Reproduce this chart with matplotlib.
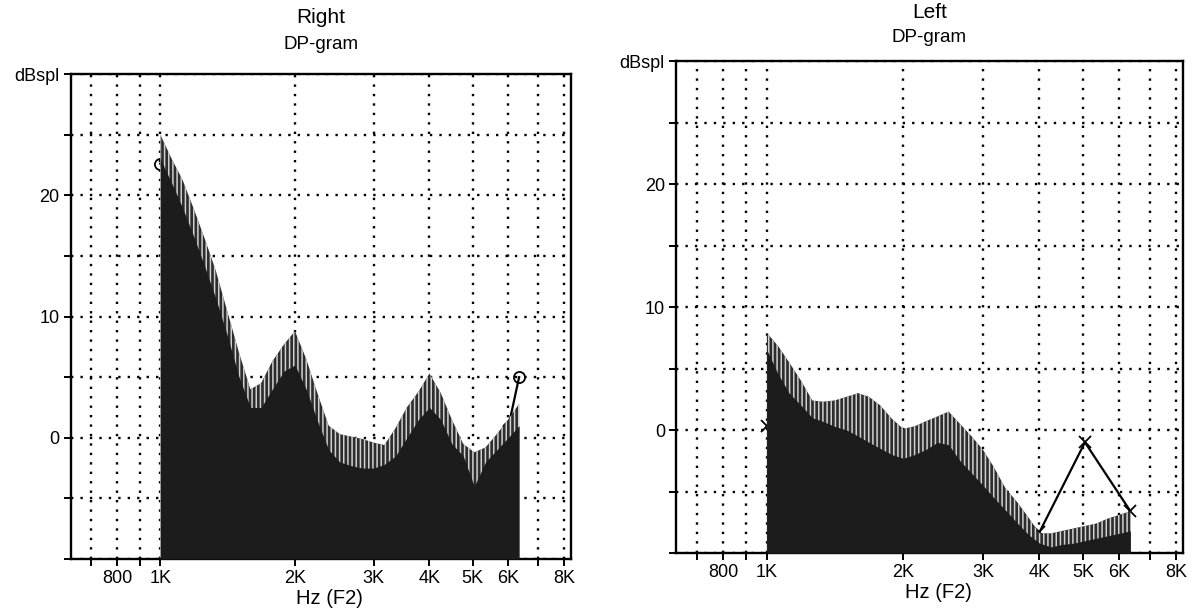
import numpy as np
import matplotlib
matplotlib.use("Agg")
import matplotlib.pyplot as plt
from matplotlib.ticker import NullLocator

plt.rcParams['font.family'] = ['Liberation Sans', 'DejaVu Sans']
plt.rcParams['hatch.linewidth'] = 1.1

# F2 frequencies of the shaded DP-gram (Hz)
freq = [1000, 1060, 1120, 1190, 1260, 1330, 1410, 1500, 1590, 1680, 1780, 1890,
        2000, 2120, 2240, 2380, 2520, 2670, 2830, 3000, 3170, 3360, 3560, 3780,
        4000, 4240, 4490, 4760, 5040, 5340, 5660, 6000, 6350]

# Right ear: top of hatched band and top of dark noise floor (dB SPL)
right_upper = [25.0, 23.0, 21.3, 18.8, 16.3, 13.8, 10.5, 7.0, 4.0, 4.5, 6.3, 7.7,
               8.8, 6.5, 3.8, 1.0, 0.3, 0.1, -0.1, -0.4, -0.6, 0.8, 2.5, 3.8,
               5.3, 3.7, 1.5, -0.5, -1.2, -0.8, 0.3, 1.5, 2.8]
right_noise = [23.0, 21.0, 19.0, 16.5, 14.0, 11.5, 8.5, 5.0, 2.5, 2.5, 4.0, 5.5,
               6.0, 4.0, 1.5, -1.0, -2.0, -2.3, -2.5, -2.5, -2.2, -1.5, 0.0, 1.5,
               2.5, 1.5, -0.5, -1.5, -4.0, -2.0, -1.0, 0.0, 1.0]

# Left ear
left_upper = [7.9, 6.8, 5.5, 4.0, 2.4, 2.3, 2.4, 2.7, 3.0, 2.7, 2.0, 0.9,
              0.1, 0.3, 0.7, 1.1, 1.5, 0.5, -0.5, -1.6, -3.0, -4.7, -5.8, -7.1,
              -8.4, -8.4, -8.2, -8.0, -7.8, -7.6, -7.2, -6.9, -6.6]
left_noise = [6.5, 4.5, 3.0, 2.0, 1.0, 0.7, 0.3, 0.0, -0.5, -1.0, -1.5, -2.0,
              -2.3, -2.0, -1.6, -1.0, -1.2, -2.5, -3.5, -4.5, -5.5, -6.5, -7.5, -8.5,
              -9.2, -9.5, -9.3, -9.2, -9.0, -8.8, -8.6, -8.4, -8.2]

# DP amplitude points
dp_f_right = [1000, 1260, 1590, 2000, 2520, 3170, 4000, 5040, 6000, 6350]
dp_right = [22.6, 13.5, 2.0, 5.5, -2.2, -2.4, 2.0, -4.5, 0.8, 5.0]
dp_f_left = [1000, 1260, 1590, 2000, 2520, 3170, 4000, 5040, 6350]
dp_left = [0.3, 0.4, -0.8, -2.6, -1.5, -6.0, -8.3, -1.0, -6.6]

grid_f = [700, 800, 900, 1000, 2000, 3000, 4000, 5000, 6000, 7000, 8000]
grid_lbl = ['', '800', '', '1K', '2K', '3K', '4K', '5K', '6K', '', '8K']
y_ticks = [-10, -5, 0, 5, 10, 15, 20, 25, 30]
y_lbl = ['', '', '0', '', '10', '', '20', '', 'dBspl']

fig = plt.figure(figsize=(11.95, 6.10), dpi=100)
ax_r = fig.add_axes([0.0592, 0.0836, 0.4187, 0.795])
ax_l = fig.add_axes([0.5657, 0.0934, 0.4243, 0.8066])


def draw_panel(ax, title, upper, noise, dp_f, dp, marker, title_off, sub_off):
    ax.set_xscale('log')
    ax.set_xlim(630, 8300)
    ax.set_ylim(-10, 30)
    ax.set_axisbelow(True)
    ax.grid(True, color='black', linestyle=(0, (1, 3.0)), linewidth=1.7)

    # DP line sits under the shading, only the parts outside it show
    ax.plot(dp_f, dp, color='black', linewidth=1.6, marker=marker, markersize=8,
            markerfacecolor='none', markeredgewidth=1.3, zorder=1.5, clip_on=False)
    ax.fill_between(freq, -10, upper, facecolor='#2c2c2c', edgecolor='#d0d0d0',
                    hatch='||||', linewidth=0, zorder=2)
    ax.fill_between(freq, -10, noise, color='#1c1c1c', linewidth=0, zorder=3)

    ax.set_xticks(grid_f)
    ax.set_xticklabels(grid_lbl)
    ax.xaxis.set_minor_locator(NullLocator())
    ax.set_yticks(y_ticks)
    ax.set_yticklabels(y_lbl)
    ax.tick_params(labelsize=13, length=5, width=1.4, direction='out', pad=3)
    for s in ax.spines.values():
        s.set_linewidth(1.7)
    ax.set_xlabel('Hz (F2)', fontsize=14.5, x=0.517, labelpad=1)
    ax.annotate(title, xy=(0.5, 1.0), xycoords='axes fraction', xytext=(0, title_off),
                textcoords='offset pixels', ha='center', va='center', fontsize=15)
    ax.annotate('DP-gram', xy=(0.5, 1.0), xycoords='axes fraction', xytext=(0, sub_off),
                textcoords='offset pixels', ha='center', va='center', fontsize=13.5)


draw_panel(ax_r, 'Right', right_upper, right_noise, dp_f_right, dp_right, 'o', 57, 30)
draw_panel(ax_l, 'Left', left_upper, left_noise, dp_f_left, dp_left, 'x', 49, 23)

fig.savefig('out.png', dpi=100)
